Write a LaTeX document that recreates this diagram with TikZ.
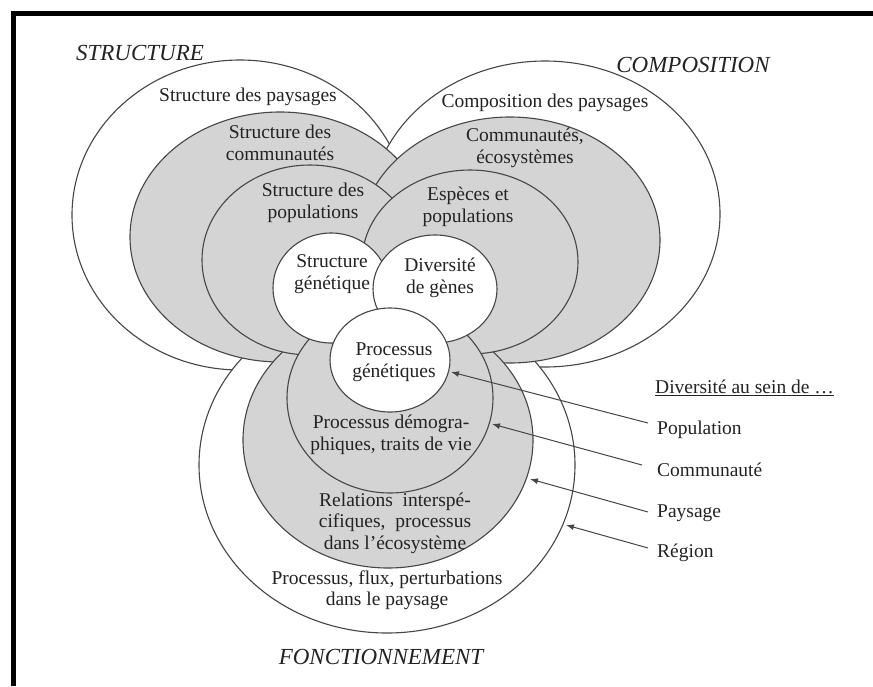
\documentclass[tikz,border=0pt]{standalone}
\usepackage{fontspec}
\setmainfont{Liberation Serif}
\usetikzlibrary{arrows.meta}
\definecolor{ringgray}{RGB}{212,212,212}
\definecolor{linec}{RGB}{70,70,70}
\definecolor{txt}{RGB}{35,35,35}
\begin{document}
\begin{tikzpicture}[x=1pt,y=-1pt,
  ring/.style={draw=linec,line width=1.1pt},
  wring/.style={ring,fill=white},
  gring/.style={ring,fill=ringgray},
  lbl/.style={font=\fontsize{19.5}{21.5}\selectfont,text=txt,align=center,inner sep=0pt},
  ttl/.style={font=\fontsize{23}{26}\selectfont\itshape,text=txt,inner sep=0pt},
  arr/.style={draw=linec,line width=1pt,-{Latex[length=8pt,width=6pt]}}
]
\useasboundingbox (0,0) rectangle (873,686);
% frame
\draw[line width=5pt] (13,686) -- (13,13) -- (873,13);

% level 1 (outer, white)
\draw[wring] (240,215) ellipse [x radius=168pt, y radius=155pt];
\draw[wring] (545,214) ellipse [x radius=175pt, y radius=153pt];
\draw[wring] (387,465) ellipse [x radius=188pt, y radius=168pt];
% level 2 (gray)
\draw[gring] (280,237) ellipse [x radius=150pt, y radius=125pt];
\draw[gring] (510,240) ellipse [x radius=150pt, y radius=123pt];
\draw[gring] (388,440) ellipse [x radius=145pt, y radius=128pt];
% level 3 (gray)
\draw[gring] (310,260) ellipse [x radius=108pt, y radius=95pt];
\draw[gring] (470,262) ellipse [x radius=108pt, y radius=92pt];
\draw[gring] (390,398) ellipse [x radius=103pt, y radius=95pt];
% level 4 (white circles)
\draw[wring] (331,288) ellipse [x radius=58pt, y radius=55pt];
\draw[wring] (435,289) ellipse [x radius=62pt, y radius=54pt];
\draw[wring] (390,360) ellipse [x radius=60pt, y radius=52pt];

% titles
\node[ttl] (tS) at (140,53) {STRUCTURE};
\node[ttl] (tC) at (693,65) {COMPOSITION};
\node[ttl] (tF) at (381,657) {FONCTIONNEMENT};

% structure labels
\node[lbl] (s1) at (248,97) {Structure des paysages};
\node[lbl] (s2) at (280,143) {Structure des\\communautés};
\node[lbl] (s3) at (313,203) {Structure des\\populations};
\node[lbl] (s4) at (332,274) {Structure\\génétique};
% composition labels
\node[lbl] (c1) at (545,103) {Composition des paysages};
\node[lbl] (c2) at (525,148) {Communautés,\\écosystèmes};
\node[lbl] (c3) at (468,207) {Espèces et\\populations};
\node[lbl] (c4) at (440,278) {Diversité\\de gènes};
% fonctionnement labels
\node[lbl] (f4) at (394,362) {Processus\\génétiques};
\node[lbl] (f3) at (391,435) {Processus démogra-\\phiques, traits de vie};
\node[lbl] (f2) at (395,523) {Relations \ interspé-\\cifiques, \ processus\\dans l’écosystème};
\node[lbl] (f1) at (387,590) {Processus, flux, perturbations\\dans le paysage};

% legend
\node[lbl,anchor=west] (leg) at (655,388) {\underline{Diversité au sein de …}};
\node[lbl,anchor=west] (pop) at (657,430) {Population};
\node[lbl,anchor=west] (com) at (657,470) {Communauté};
\node[lbl,anchor=west] (pay) at (657,513) {Paysage};
\node[lbl,anchor=west] (reg) at (657,553) {Région};

% arrow ends
\coordinate (popT) at (648,423);
\coordinate (comT) at (642,465);
\coordinate (payT) at (648,512);
\coordinate (regT) at (648,548);
\coordinate (popH) at (451,372);
\coordinate (comH) at (492,424);
\coordinate (payH) at (530,479);
\coordinate (regH) at (566,525);
\draw[arr] (popT) -- (popH);
\draw[arr] (comT) -- (comH);
\draw[arr] (payT) -- (payH);
\draw[arr] (regT) -- (regH);
\end{tikzpicture}
\end{document}
